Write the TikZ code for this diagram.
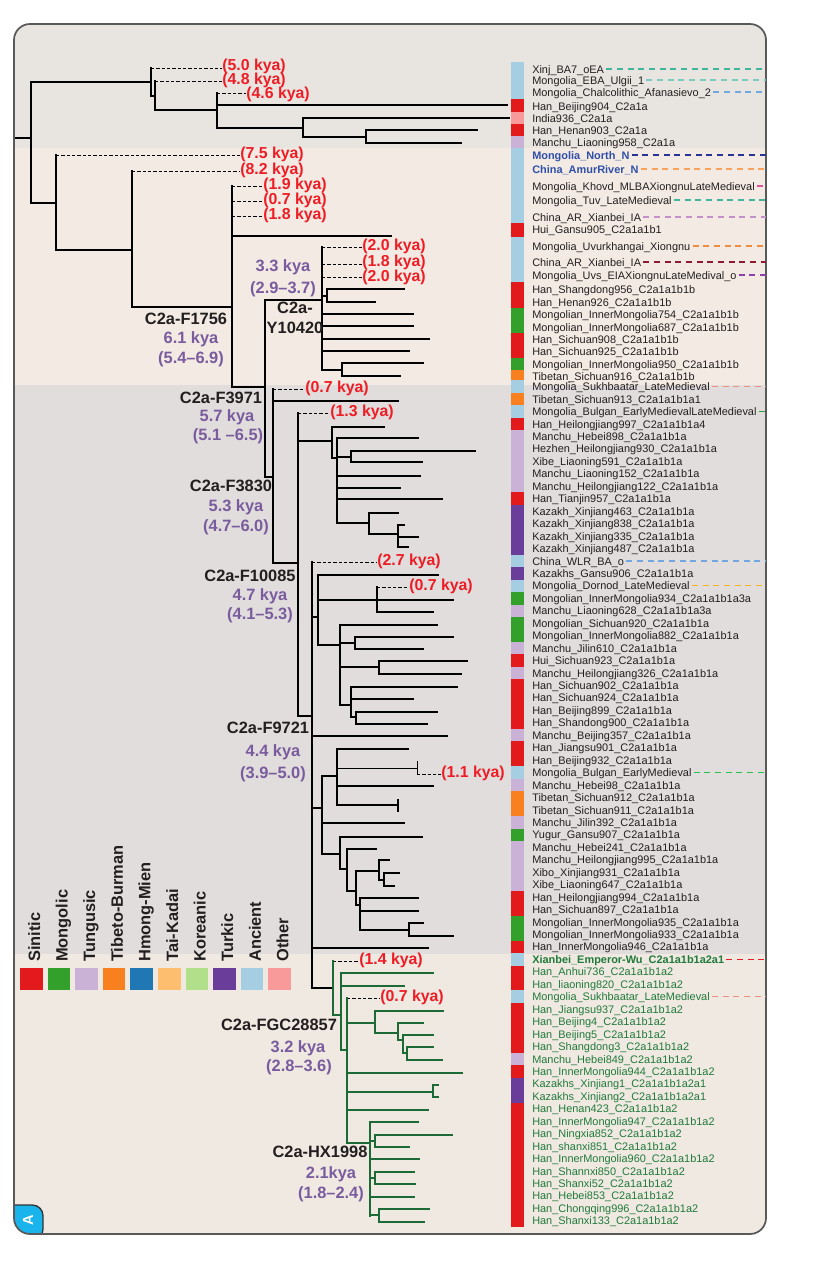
\documentclass[tikz,border=0pt]{standalone}
\usepackage{fontspec}
\setmainfont{Liberation Sans}
\definecolor{sin}{HTML}{E31A1C}
\definecolor{mon}{HTML}{33A02C}
\definecolor{tun}{HTML}{CAB2D6}
\definecolor{tib}{HTML}{F8801F}
\definecolor{hmo}{HTML}{1F78B4}
\definecolor{tai}{HTML}{FDBF6F}
\definecolor{kor}{HTML}{B2DF8A}
\definecolor{tur}{HTML}{6A3D9A}
\definecolor{anc}{HTML}{A6CEE3}
\definecolor{oth}{HTML}{F89A99}
\definecolor{bandA}{HTML}{E8E5E1}
\definecolor{bandB}{HTML}{F3EBE3}
\definecolor{bandC}{HTML}{E0DDDC}
\definecolor{bandD}{HTML}{EFE9E2}
\definecolor{kred}{HTML}{EE1D25}
\definecolor{kpur}{HTML}{7A5C9E}
\definecolor{kblk}{HTML}{231F20}
\definecolor{tgreen}{HTML}{1C6B36}
\definecolor{lgreen}{HTML}{217A3A}
\definecolor{lblue}{HTML}{2F4FA8}
\definecolor{cteal}{HTML}{40B59B}
\definecolor{clteal}{HTML}{7CC9BF}
\definecolor{clblue}{HTML}{72A8E0}
\definecolor{cdblue}{HTML}{2A3592}
\definecolor{corange}{HTML}{F9A25E}
\definecolor{cpink}{HTML}{E4509A}
\definecolor{clilac}{HTML}{C58FCB}
\definecolor{corange2}{HTML}{F08C3E}
\definecolor{cmaroon}{HTML}{8C1A30}
\definecolor{cpurple}{HTML}{8F3FA8}
\definecolor{csalmon}{HTML}{EE8F80}
\definecolor{cgreen}{HTML}{2E9E3E}
\definecolor{cyellow}{HTML}{F5B324}
\definecolor{cbgreen}{HTML}{27C24C}
\definecolor{cred}{HTML}{E41E26}
\definecolor{tabcyan}{HTML}{19B4EC}
\tikzset{
  tr/.style={line width=1.5pt, line cap=rect, draw=black},
  trg/.style={line width=1.5pt, line cap=rect, draw=tgreen},
  thinl/.style={line width=0.7pt, draw=black},
  td/.style={line width=0.6pt, dash pattern=on 2.4pt off 1.6pt, draw=black},
  lab/.style={anchor=west, inner sep=0pt, font=\fontsize{8.2}{9}\selectfont, text=kblk, text height=1.6ex, text depth=0.45ex},
  bl/.style={text=lblue, font=\bfseries\fontsize{8.2}{9}\selectfont},
  gr/.style={text=lgreen},
  grb/.style={text=lgreen, font=\bfseries\fontsize{8.2}{9}\selectfont},
  dl/.style={line width=0.9pt, dash pattern=on 4.5pt off 3.5pt, shorten <=1.5pt},
  kya/.style={anchor=west, inner sep=0pt, text=kred, font=\bfseries\fontsize{11.9}{13}\selectfont, text height=0.62em, text depth=0.1em},
  clab/.style={inner sep=0pt, text=kblk, font=\bfseries\fontsize{12.3}{14}\selectfont, text height=0.73em, text depth=0.21em},
  plab/.style={clab, text=kpur},
  leg/.style={inner sep=0pt, text=kblk, font=\bfseries\fontsize{12.3}{14}\selectfont, rotate=90, anchor=base west},
}
\newcommand\hh[4][tr]{\draw[#1] (#3,#2) -- (#4,#2);}
\newcommand\vv[4][tr]{\draw[#1] (#2,#3) -- (#2,#4);}
\newcommand\RY[4]{\node[lab,#3] (#1) at (532,#2) {#4};}
\newcommand\RK[4]{\node[lab,#3] (#1) at (532,{424+12.45*(#2)}) {#4};}
\newcommand\CY[3]{\fill[#3] (511,#1) rectangle (524,#2);}
\newcommand\CK[3]{\fill[#3] (511,{417.775+12.45*(#1)}) rectangle (524,{417.775+12.45*(#2)});}
\newcommand\DL[2]{\draw[dl,#2] (#1.east) -- (#1.east -| E);}
\begin{document}
\begin{tikzpicture}[x=0.75pt,y=-0.75pt]
\useasboundingbox (0,0) rectangle (816,1273);
\fill[white] (0,0) rectangle (816,1273);
\coordinate (E) at (766,0);
% bands
\begin{scope}
\clip[rounded corners=12] (14,24) rectangle (766,1234);
\fill[bandA] (0,0) rectangle (816,148);
\fill[bandB] (0,148) rectangle (816,385);
\fill[bandC] (0,385) rectangle (816,954);
\fill[bandD] (0,954) rectangle (816,1273);
% tab
\filldraw[fill=tabcyan, draw=black!80, line width=1pt] (10,1205) [rounded corners=8] -- (43,1205) -- (43,1240) [sharp corners] -- (10,1240) -- cycle;
\end{scope}
\draw[draw=black!65, line width=1.3pt, rounded corners=12] (14,24) rectangle (766,1234);
\node[text=white, font=\bfseries\fontsize{11}{12}\selectfont, rotate=90, inner sep=0pt] (tabA) at (28,1220) {A};

% colour strip
\CY{62}{99}{anc} \CY{99}{112}{sin} \CY{112}{124}{oth} \CY{124}{136}{sin}
\CY{136}{148.5}{tun} \CY{148.5}{223}{anc} \CY{223}{237.5}{sin} \CY{237.5}{282}{anc}
\CY{282}{308}{sin} \CY{308}{333}{mon} \CY{333}{357.5}{sin} \CY{357.5}{370}{mon}
\CY{370}{380.5}{tib}
\CK{-3}{-2}{anc} \CK{-2}{-1}{tib} \CK{-1}{0}{anc} \CK{0}{1}{sin} \CK{1}{6}{tun}
\CK{6}{7}{sin} \CK{7}{11}{tur} \CK{11}{12}{anc} \CK{12}{13}{tur} \CK{13}{14}{anc}
\CK{14}{15}{mon} \CK{15}{16}{tun} \CK{16}{18}{mon} \CK{18}{19}{tun} \CK{19}{20}{sin}
\CK{20}{21}{tun} \CK{21}{25}{sin} \CK{25}{26}{tun} \CK{26}{28}{sin} \CK{28}{29}{anc}
\CK{29}{30}{tun} \CK{30}{32}{tib} \CK{32}{33}{tun} \CK{33}{34}{mon} \CK{34}{38}{tun}
\CK{38}{40}{sin} \CK{40}{42}{mon} \CK{42}{43}{sin} \CK{43}{44}{anc} \CK{44}{46}{sin}
\CK{46}{47}{anc} \CK{47}{51}{sin} \CK{51}{52}{tun} \CK{52}{53}{sin} \CK{53}{55}{tur}
\CK{55}{65}{sin}

% leaf labels
\RY{r1}{69}{}{Xinj\_BA7\_oEA}
\RY{r2}{80}{}{Mongolia\_EBA\_Ulgii\_1}
\RY{r3}{92}{}{Mongolia\_Chalcolithic\_Afanasievo\_2}
\RY{r4}{106}{}{Han\_Beijing904\_C2a1a}
\RY{r5}{118}{}{India936\_C2a1a}
\RY{r6}{130}{}{Han\_Henan903\_C2a1a}
\RY{r7}{142}{}{Manchu\_Liaoning958\_C2a1a}
\RY{r8}{155}{bl}{Mongolia\_North\_N}
\RY{r9}{169}{bl}{China\_AmurRiver\_N}
\RY{r10}{186}{}{Mongolia\_Khovd\_MLBAXiongnuLateMedieval}
\RY{r11}{200}{}{Mongolia\_Tuv\_LateMedieval}
\RY{r12}{217}{}{China\_AR\_Xianbei\_IA}
\RY{r13}{229}{}{Hui\_Gansu905\_C2a1a1b1}
\RY{r14}{246}{}{Mongolia\_Uvurkhangai\_Xiongnu}
\RY{r15}{262}{}{China\_AR\_Xianbei\_IA}
\RY{r16}{275}{}{Mongolia\_Uvs\_EIAXiongnuLateMedival\_o}
\RY{r17}{289}{}{Han\_Shangdong956\_C2a1a1b1b}
\RY{r18}{302}{}{Han\_Henan926\_C2a1a1b1b}
\RY{r19}{314}{}{Mongolian\_InnerMongolia754\_C2a1a1b1b}
\RY{r20}{327}{}{Mongolian\_InnerMongolia687\_C2a1a1b1b}
\RY{r21}{339}{}{Han\_Sichuan908\_C2a1a1b1b}
\RY{r22}{351}{}{Han\_Sichuan925\_C2a1a1b1b}
\RY{r23}{364}{}{Mongolian\_InnerMongolia950\_C2a1a1b1b}
\RY{r24}{376}{}{Tibetan\_Sichuan916\_C2a1a1b1b}
\RK{s1}{-3}{}{Mongolia\_Sukhbaatar\_LateMedieval}
\RK{s2}{-2}{}{Tibetan\_Sichuan913\_C2a1a1b1a1}
\RK{s3}{-1}{}{Mongolia\_Bulgan\_EarlyMedievalLateMedieval}
\RK{k0}{0}{}{Han\_Heilongjiang997\_C2a1a1b1a4}
\RK{k1}{1}{}{Manchu\_Hebei898\_C2a1a1b1a}
\RK{k2}{2}{}{Hezhen\_Heilongjiang930\_C2a1a1b1a}
\RK{k3}{3}{}{Xibe\_Liaoning591\_C2a1a1b1a}
\RK{k4}{4}{}{Manchu\_Liaoning152\_C2a1a1b1a}
\RK{k5}{5}{}{Manchu\_Heilongjiang122\_C2a1a1b1a}
\RK{k6}{6}{}{Han\_Tianjin957\_C2a1a1b1a}
\RK{k7}{7}{}{Kazakh\_Xinjiang463\_C2a1a1b1a}
\RK{k8}{8}{}{Kazakh\_Xinjiang838\_C2a1a1b1a}
\RK{k9}{9}{}{Kazakh\_Xinjiang335\_C2a1a1b1a}
\RK{k10}{10}{}{Kazakh\_Xinjiang487\_C2a1a1b1a}
\RK{k11}{11}{}{China\_WLR\_BA\_o}
\RK{k12}{12}{}{Kazakhs\_Gansu906\_C2a1a1b1a}
\RK{k13}{13}{}{Mongolia\_Dornod\_LateMedieval}
\RK{k14}{14}{}{Mongolian\_InnerMongolia934\_C2a1a1b1a3a}
\RK{k15}{15}{}{Manchu\_Liaoning628\_C2a1a1b1a3a}
\RK{k16}{16}{}{Mongolian\_Sichuan920\_C2a1a1b1a}
\RK{k17}{17}{}{Mongolian\_InnerMongolia882\_C2a1a1b1a}
\RK{k18}{18}{}{Manchu\_Jilin610\_C2a1a1b1a}
\RK{k19}{19}{}{Hui\_Sichuan923\_C2a1a1b1a}
\RK{k20}{20}{}{Manchu\_Heilongjiang326\_C2a1a1b1a}
\RK{k21}{21}{}{Han\_Sichuan902\_C2a1a1b1a}
\RK{k22}{22}{}{Han\_Sichuan924\_C2a1a1b1a}
\RK{k23}{23}{}{Han\_Beijing899\_C2a1a1b1a}
\RK{k24}{24}{}{Han\_Shandong900\_C2a1a1b1a}
\RK{k25}{25}{}{Manchu\_Beijing357\_C2a1a1b1a}
\RK{k26}{26}{}{Han\_Jiangsu901\_C2a1a1b1a}
\RK{k27}{27}{}{Han\_Beijing932\_C2a1a1b1a}
\RK{k28}{28}{}{Mongolia\_Bulgan\_EarlyMedieval}
\RK{k29}{29}{}{Manchu\_Hebei98\_C2a1a1b1a}
\RK{k30}{30}{}{Tibetan\_Sichuan912\_C2a1a1b1a}
\RK{k31}{31}{}{Tibetan\_Sichuan911\_C2a1a1b1a}
\RK{k32}{32}{}{Manchu\_Jilin392\_C2a1a1b1a}
\RK{k33}{33}{}{Yugur\_Gansu907\_C2a1a1b1a}
\RK{k34}{34}{}{Manchu\_Hebei241\_C2a1a1b1a}
\RK{k35}{35}{}{Manchu\_Heilongjiang995\_C2a1a1b1a}
\RK{k36}{36}{}{Xibo\_Xinjiang931\_C2a1a1b1a}
\RK{k37}{37}{}{Xibe\_Liaoning647\_C2a1a1b1a}
\RK{k38}{38}{}{Han\_Heilongjiang994\_C2a1a1b1a}
\RK{k39}{39}{}{Han\_Sichuan897\_C2a1a1b1a}
\RK{k40}{40}{}{Mongolian\_InnerMongolia935\_C2a1a1b1a}
\RK{k41}{41}{}{Mongolian\_InnerMongolia933\_C2a1a1b1a}
\RK{k42}{42}{}{Han\_InnerMongolia946\_C2a1a1b1a}
\RK{k43}{43}{grb}{Xianbei\_Emperor-Wu\_C2a1a1b1a2a1}
\RK{k44}{44}{gr}{Han\_Anhui736\_C2a1a1b1a2}
\RK{k45}{45}{gr}{Han\_liaoning820\_C2a1a1b1a2}
\RK{k46}{46}{gr}{Mongolia\_Sukhbaatar\_LateMedieval}
\RK{k47}{47}{gr}{Han\_Jiangsu937\_C2a1a1b1a2}
\RK{k48}{48}{gr}{Han\_Beijing4\_C2a1a1b1a2}
\RK{k49}{49}{gr}{Han\_Beijing5\_C2a1a1b1a2}
\RK{k50}{50}{gr}{Han\_Shangdong3\_C2a1a1b1a2}
\RK{k51}{51}{gr}{Manchu\_Hebei849\_C2a1a1b1a2}
\RK{k52}{52}{gr}{Han\_InnerMongolia944\_C2a1a1b1a2}
\RK{k53}{53}{gr}{Kazakhs\_Xinjiang1\_C2a1a1b1a2a1}
\RK{k54}{54}{gr}{Kazakhs\_Xinjiang2\_C2a1a1b1a2a1}
\RK{k55}{55}{gr}{Han\_Henan423\_C2a1a1b1a2}
\RK{k56}{56}{gr}{Han\_InnerMongolia947\_C2a1a1b1a2}
\RK{k57}{57}{gr}{Han\_Ningxia852\_C2a1a1b1a2}
\RK{k58}{58}{gr}{Han\_shanxi851\_C2a1a1b1a2}
\RK{k59}{59}{gr}{Han\_InnerMongolia960\_C2a1a1b1a2}
\RK{k60}{60}{gr}{Han\_Shannxi850\_C2a1a1b1a2}
\RK{k61}{61}{gr}{Han\_Shanxi52\_C2a1a1b1a2}
\RK{k62}{62}{gr}{Han\_Hebei853\_C2a1a1b1a2}
\RK{k63}{63}{gr}{Han\_Chongqing996\_C2a1a1b1a2}
\RK{k64}{64}{gr}{Han\_Shanxi133\_C2a1a1b1a2}

% dashed connectors to the right edge
\DL{r1}{cteal} \DL{r2}{clteal} \DL{r3}{clblue} \DL{r8}{cdblue} \DL{r9}{corange}
\DL{r10}{cpink} \DL{r11}{cteal} \DL{r12}{clilac} \DL{r14}{corange2} \DL{r15}{cmaroon}
\DL{r16}{cpurple} \DL{s1}{csalmon} \DL{s3}{cgreen} \DL{k11}{clblue} \DL{k13}{cyellow}
\DL{k28}{cbgreen} \DL{k43}{cred} \DL{k46}{csalmon}

% age labels (red)
\node[kya] (a1) at (222,67) {(5.0 kya)};
\node[kya] (a2) at (222,81) {(4.8 kya)};
\node[kya] (a3) at (246,95) {(4.6 kya)};
\node[kya] (a4) at (240,155) {(7.5 kya)};
\node[kya] (a5) at (240,171) {(8.2 kya)};
\node[kya] (a6) at (263,186) {(1.9 kya)};
\node[kya] (a7) at (263,201) {(0.7 kya)};
\node[kya] (a8) at (263,216) {(1.8 kya)};
\node[kya] (a9) at (362,247) {(2.0 kya)};
\node[kya] (a10) at (362,263) {(1.8 kya)};
\node[kya] (a11) at (362,278) {(2.0 kya)};
\node[kya] (a12) at (305,389) {(0.7 kya)};
\node[kya] (a13) at (330,413) {(1.3 kya)};
\node[kya] (a14) at (377,562) {(2.7 kya)};
\node[kya] (a15) at (409,587) {(0.7 kya)};
\node[kya] (a16) at (441,774) {(1.1 kya)};
\node[kya] (a17) at (359,961) {(1.4 kya)};
\node[kya] (a18) at (380,998) {(0.7 kya)};

% dashed tree tips
\draw[td] (151,68) -- (a1.west |- 0,68);
\draw[td] (155,81) -- (a2.west);
\draw[td] (217,93) -- (a3.west |- 0,93);
\draw[td] (56,155) -- (a4.west);
\draw[td] (132,171) -- (a5.west);
\draw[td] (232,186) -- (a6.west);
\draw[td] (232,201) -- (a7.west);
\draw[td] (232,216) -- (a8.west);
\draw[td] (322,247) -- (a9.west);
\draw[td] (322,264) -- (a10.west |- 0,264);
\draw[td] (322,277) -- (a11.west |- 0,277);
\draw[td] (273,389) -- (a12.west);
\draw[td] (298,413) -- (a13.west);
\draw[td] (312,562) -- (a14.west);
\draw[td] (377,587) -- (a15.west);
\draw[td] (417,774) -- (a16.west);
\draw[td] (333,961) -- (a17.west);
\draw[td] (347,998) -- (a18.west);

% tree: top group
\hh{138}{16}{31} \vv{31}{82}{203}
\hh{82}{31}{151} \vv{151}{68}{96}
\hh{96}{151}{155} \vv{155}{81}{110}
\hh{110}{155}{217} \vv{217}{93}{128}
\hh{105}{217}{507}
\hh{128}{217}{303} \vv{303}{118}{137}
\hh{118}{303}{509} \hh{137}{303}{366}
\vv{366}{130}{143} \hh{130}{366}{477} \hh{143}{366}{461}
% second group
\hh{203}{31}{56} \vv{56}{155}{250}
\hh{250}{56}{132} \vv{132}{171}{307}
\hh{307}{132}{232} \vv{232}{186}{387}
\hh{236}{232}{391}
\hh{387}{232}{265} \vv{265}{300}{477}
\hh{300}{265}{322} \vv{322}{247}{370}
\hh{296}{322}{327} \vv{327}{289}{302}
\hh{289}{327}{404} \hh{302}{327}{375}
\hh{314}{322}{413} \hh{326}{322}{413} \hh{339}{322}{429} \hh{351}{322}{409}
\hh{370}{322}{342} \vv{342}{363}{376}
\hh{363}{342}{423} \hh{376}{342}{400}
% F3830 and below
\hh{477}{265}{273} \vv{273}{389}{563}
\hh{401}{273}{398}
\hh{563}{273}{298} \vv{298}{413}{716}
\hh{441}{298}{332} \vv{332}{427}{458}
\hh{427}{332}{384}
\hh{458}{332}{337} \vv{337}{438}{523}
\hh{438}{337}{418}
\hh{457}{337}{351} \vv{351}{451}{462}
\hh{451}{351}{475} \hh{462}{351}{422}
\hh{476}{337}{420} \hh{488}{337}{400} \hh{499}{337}{442}
\hh{523}{337}{369} \vv{369}{513}{534}
\hh{513}{369}{398}
\hh{534}{369}{398} \vv{398}{525}{547}
\hh{525}{398}{404} \hh{537}{398}{418} \hh{547}{398}{408}
% F9721
\hh{716}{298}{312} \vv{312}{562}{988}
\hh{617}{312}{318} \vv{318}{575}{645}
\hh{575}{318}{438}
\hh{600}{318}{453} \vv{377}{587}{612} \hh{612}{377}{433}
\hh{645}{318}{340} \vv{340}{625}{705}
\hh{625}{340}{437}
\hh{643}{340}{355} \vv{355}{637}{649} \hh{637}{355}{453} \hh{649}{355}{423}
\hh{667}{340}{379} \vv{379}{661}{674} \hh{661}{379}{467} \hh{674}{379}{461}
\hh{705}{340}{351} \vv{351}{687}{717} \hh{687}{351}{457} \hh{699}{351}{413}
\hh{717}{351}{356} \vv{356}{712}{724} \hh{712}{356}{437} \hh{724}{356}{427}
\hh{736}{312}{447}
\hh{808}{312}{322} \vv{322}{776}{854}
\hh{776}{322}{337} \vv{337}{749}{805}
\hh{749}{337}{408}
\hh[thinl]{768}{337}{417} \vv[thinl]{417}{761}{774}
\hh{786}{337}{433}
\hh{805}{337}{398} \vv{398}{800}{811}
\hh{823}{322}{404}
\hh{854}{322}{340} \vv{340}{837}{869}
\hh{837}{340}{422}
\hh{869}{340}{347} \vv{347}{849}{891}
\hh{849}{347}{376}
\hh{891}{347}{356} \vv{356}{871}{905}
\hh{871}{356}{379} \vv{379}{860}{880}
\hh{860}{379}{389}
\hh{880}{379}{384} \vv{384}{873}{886}
\hh{873}{384}{399} \hh{886}{384}{394}
\hh{905}{356}{360} \vv{360}{898}{930}
\hh{898}{360}{418} \hh{911}{360}{418}
\hh{930}{360}{409} \vv{409}{923}{936}
\hh{923}{409}{423} \hh{936}{409}{453}
\hh{948}{312}{428}
\hh{988}{312}{333}
% green clade
\vv[trg]{333}{961}{1015}
\hh[trg]{1015}{333}{341} \vv[trg]{341}{973}{1050}
\hh[trg]{973}{341}{433} \hh[trg]{986}{341}{404}
\hh[trg]{1050}{341}{347} \vv[trg]{347}{998}{1143}
\hh[trg]{1023}{347}{375} \vv[trg]{375}{1011}{1033}
\hh[trg]{1011}{375}{443}
\hh[trg]{1033}{375}{398} \vv[trg]{398}{1023}{1040}
\hh[trg]{1023}{398}{423}
\hh[trg]{1040}{398}{403} \vv[trg]{403}{1035}{1053}
\hh[trg]{1035}{403}{433}
\hh[trg]{1053}{403}{407} \vv[trg]{407}{1047}{1060}
\hh[trg]{1047}{407}{433} \hh[trg]{1060}{407}{442}
\hh[trg]{1073}{347}{462}
\hh[trg]{1092}{347}{433} \vv[trg]{433}{1085}{1097}
\hh[trg]{1085}{433}{438} \hh[trg]{1097}{433}{438}
\hh[trg]{1110}{347}{428}
\hh[trg]{1143}{347}{370} \vv[trg]{370}{1122}{1216}
\hh[trg]{1122}{370}{418}
\hh[trg]{1141}{370}{375} \vv[trg]{375}{1135}{1147}
\hh[trg]{1135}{375}{452} \hh[trg]{1147}{375}{409}
\hh[trg]{1159}{370}{419}
\hh[trg]{1178}{370}{375} \vv[trg]{375}{1172}{1184}
\hh[trg]{1172}{375}{414} \hh[trg]{1184}{375}{415}
\hh[trg]{1197}{370}{414}
\hh[trg]{1215}{370}{379} \vv[trg]{379}{1209}{1222}
\hh[trg]{1209}{379}{429} \hh[trg]{1222}{379}{424}

% clade labels
\node[clab] (c1) at (186,321) {C2a-F1756};
\node[plab] (c1a) at (191,340) {6.1 kya};
\node[plab] (c1b) at (191,360) {(5.4–6.9)};
\node[plab] (c2a) at (283,268) {3.3 kya};
\node[plab] (c2b) at (283,290) {(2.9–3.7)};
\node[clab] (c2) at (295,310) {C2a-};
\node[clab] (c2c) at (295,330) {Y10420};
\node[clab] (c3) at (221,400) {C2a-F3971};
\node[plab] (c3a) at (227,418) {5.7 kya};
\node[plab] (c3b) at (228,437) {(5.1 –6.5)};
\node[clab] (c4) at (231,488) {C2a-F3830};
\node[plab] (c4a) at (236,508) {5.3 kya};
\node[plab] (c4b) at (236,528) {(4.7–6.0)};
\node[clab] (c5) at (250,578) {C2a-F10085};
\node[plab] (c5a) at (260,597) {4.7 kya};
\node[plab] (c5b) at (260,616) {(4.1–5.3)};
\node[clab] (c6) at (268,730) {C2a-F9721};
\node[plab] (c6a) at (273,753) {4.4 kya};
\node[plab] (c6b) at (273,775) {(3.9–5.0)};
\node[clab] (c7) at (279,1027) {C2a-FGC28857};
\node[plab] (c7a) at (298,1049) {3.2 kya};
\node[plab] (c7b) at (299,1068) {(2.8–3.6)};
\node[clab] (c8) at (320,1154) {C2a-HX1998};
\node[plab] (c8a) at (331,1175) {2.1kya};
\node[plab] (c8b) at (331,1195) {(1.8–2.4)};

% legend
\foreach \c/\t [count=\i from 0] in {sin/Sinitic, mon/Mongolic, tun/Tungusic, tib/Tibeto-Burman, hmo/Hmong-Mien, tai/Tai-Kadai, kor/Koreanic, tur/Turkic, anc/Ancient, oth/Other} {
  \fill[\c] ({20+27.6*\i},968) rectangle ({42.6+27.6*\i},990);
  \node[leg] (lg\i) at ({40+27.6*\i},962) {\t};
}
\end{tikzpicture}
\end{document}
